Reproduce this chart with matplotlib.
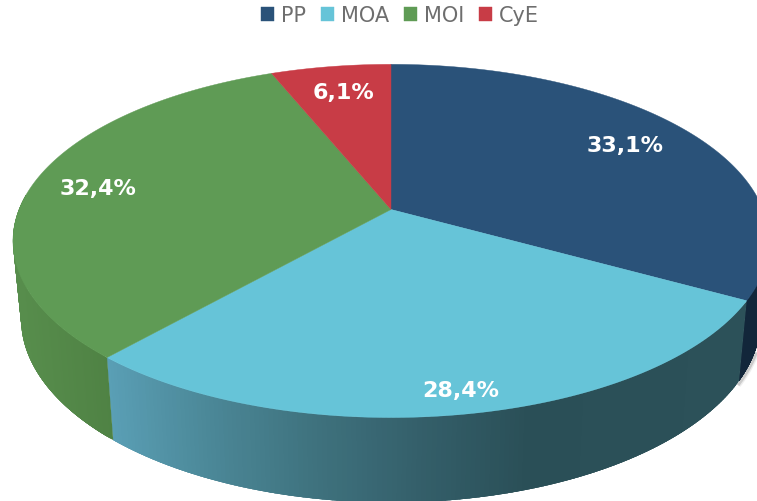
import numpy as np
import matplotlib
matplotlib.use("Agg")
import matplotlib.pyplot as plt
from matplotlib.colors import to_rgb

categories = ["PP", "MOA", "MOI", "CyE"]
values = [33.1, 28.4, 32.4, 6.1]
value_labels = ["33,1%", "28,4%", "32,4%", "6,1%"]

top_colors = ["#2a5279", "#66c4d8", "#5f9b55", "#c83c46"]
label_xy = [(625, 146), (461, 391), (98, 189), (344, 93)]

# projection of the pie disc (pixel space)
CX, CY, A, B, K = 391, 210.5, 372, 171, 0.178
CXB, CYB, AB, BB = 391, 287, 364, 178


def top_pt(deg):
    a = np.radians(deg)
    u, v = np.sin(a), np.cos(a)
    d = 1 + K * v
    return CX + A * u / d, CY - B * v / d


def bot_pt(deg):
    a = np.radians(deg)
    u, v = np.sin(a), np.cos(a)
    d = 1 + K * v
    return CXB + AB * u / d, CYB - BB * v / d


def wall_color(i, x):
    if i == 0:
        return "#12263a"
    if i == 2:
        t = np.clip((x - 20) / 90, 0, 1)
        return tuple(np.array(to_rgb("#578d4c")) * (1 - t) + np.array(to_rgb("#4f8244")) * t)
    stops_x = [107, 210, 310, 420, 530, 740]
    stops_c = ["#5a9fb5", "#4b8797", "#3f737f", "#345f6a", "#2a4f57", "#2c5159"]
    rgb = np.array([to_rgb(c) for c in stops_c])
    return tuple(np.interp(x, stops_x, rgb[:, j]) for j in range(3))


fig = plt.figure(figsize=(7.57, 5.02), dpi=100)
ax = fig.add_axes([0, 0, 1, 1])
ax.set_xlim(0, 757)
ax.set_ylim(502, 0)
ax.axis("off")

edges = np.concatenate([[0], np.cumsum(values) / np.sum(values) * 360])

# soft shadow beside the lower right rim
for w, al in zip([4, 2], [0.10, 0.22]):
    d = np.linspace(edges[1] - 9, edges[1] + 1, 20)
    p = np.array([bot_pt(x) for x in d])
    ax.plot(p[:, 0] + 1.5, p[:, 1] + 1, color="#555555", lw=w, alpha=al, zorder=1,
            solid_capstyle="butt")

# side walls, front half only; each strip runs on under the next so no seams show
for i in range(len(values)):
    lo, hi = max(edges[i], 90), min(edges[i + 1], 275)
    if hi <= lo:
        continue
    grid = np.linspace(lo, hi, 161)
    for a0, a1 in zip(grid[:-1], grid[1:]):
        end = min(hi, a1 + 1.5)
        span = np.linspace(a0, end, 6)
        outline = [top_pt(a) for a in span] + [bot_pt(a) for a in span[::-1]]
        c = wall_color(i, top_pt(0.5 * (a0 + a1))[0])
        ax.fill(*zip(*outline), facecolor=c, edgecolor="none", zorder=2)

# top faces
for i, (cat, col) in enumerate(zip(categories, top_colors)):
    grid = np.linspace(edges[i], edges[i + 1], 200)
    pts = [(CX, CY)] + [top_pt(a) for a in grid]
    ax.fill(*zip(*pts), facecolor=col, edgecolor=col, lw=0.3, zorder=3, label=cat)

for txt, (x, y) in zip(value_labels, label_xy):
    ax.text(x, y, txt, color="white", fontsize=16, fontweight="bold",
            family="DejaVu Sans", ha="center", va="center", zorder=4)

leg = ax.legend(loc="center", bbox_to_anchor=(400 / 757, 1 - 16.5 / 502), ncol=4,
                frameon=False, fontsize=15, handlelength=0.62, handleheight=0.62,
                handletextpad=0.33, columnspacing=0.72, borderpad=0, labelspacing=0)
for t in leg.get_texts():
    t.set_color("#6e6e6e")

fig.savefig("out.png", dpi=100)
